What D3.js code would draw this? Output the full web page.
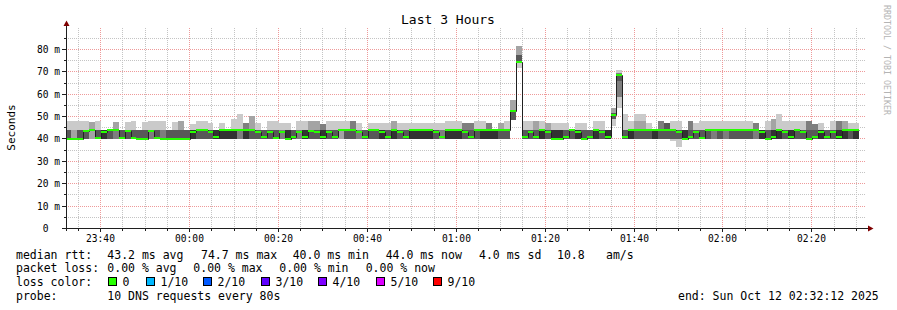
<!DOCTYPE html>
<html lang="en">
<head>
<meta charset="UTF-8">
<title>Last 3 Hours</title>
<script src="https://cdn.jsdelivr.net/npm/d3@7"></script>
<style>
	html,body{margin:0;padding:0;background:#fff;}
	svg{display:block;}
	text{font-family:"DejaVu Sans Mono",monospace;fill:#000;}
</style>
</head>
<body>
<div id="main"></div>
<script>
// one entry per 80 s step, ms
var median = [
	40.2,40,40,43.6,44,40.5,43,44,44,40.5,
	43.6,40.5,40,40,43.6,40.5,40,40,40,40,
	40,43,44,44,43,41,44,44,44,44,
	44,44,43,41,43,40.6,43,40,41,43,
	41,43.6,43,41,43,41,44,44,44,43,
	41,44,44,43,41,44,43,41,44,44,
	44,44,43,41,44,44,44,43,41,44,
	44,44,44,44,44,52.6,74.5,41,43,41,
	44,43,40.2,40.2,41,44,43,40.2,41,44,
	43,41,50.8,68.4,41,44,44,44,44,44,
	44,44,44,43,40,41,43,40.4,44,44,
	44,44,44,44,44,44,44,43,40,41,
	44,43,41,44,43,40,41,43,41,43,
	41,44,44,44
];
// the 10 sorted DNS times of each step, ms
var pings = [
	[40,40,40,40,42,42,44,44,44,48],[40,40,42,42,42,42,42,42,44,48],[40,40,40,40,42,42,44,44,44,48],
	[40,40,40,40,42,42,44,44,44,48],[40,40,42,42,42,42,42,42,47.5,47.5],[40,40,40,40,42,42,44,44,44,48],
	[40,40,40,40,40,44,44,44,44,44],[40,40,40,40,42,42,44,44,44,44],[40,40,40,42,42,42,42,44,47.5,47.5],
	[40,40,40,40,42,42,44,44,44,44],[40,40,40,40,42,42,44,44,44,47.5],[40,40,40,40,42,42,44,44,44,48],
	[40,40,40,40,42,42,44,44,44,44],[40,40,40,40,42,42,44,44,44,47.5],[40,40,40,42,42,42,42,44,44,48],
	[40,40,40,40,42,42,44,44,44,48],[40,40,40,42,42,42,42,44,44,48],[40,40,40,40,42,42,44,44,44,44],
	[40,40,40,40,42,42,44,44,44,47.5],[40,40,40,40,42,42,44,44,48,48],[40,40,40,40,42,42,44,44,44,44],
	[40,40,40,40,40,44,44,44,44,46.5],[40,40,40,40,42,42,44,44,44,48],[40,40,40,40,42,42,44,44,44,48],
	[40,40,40,40,42,42,44,44,44,47.3],[40,40,40,40,40,44,44,44,44,44],[40,40,40,40,40,44,44,44,44,47.3],
	[40,40,40,40,40,44,44,44,44,44],[40,40,40,40,40,44,44,44,44,49],[40,40,40,42,42,42,42,44,44,51],
	[40,40,40,40,40,44,44,47.3,47.3,47.3],[40,40,40,40,42,42,44,44,50.2,50.2],[40,40,40,40,42,42,44,44,44,47.3],
	[40,40,40,40,42,42,44,44,44,44],[40,40,40,40,42,42,44,44,44,48],[40,40,40,40,42,42,44,44,44,48],
	[40,40,40,42,42,42,42,44,44,47.3],[40,40,40,40,40,44,44,44,44,47.3],[40,40,40,40,42,42,44,44,44,44],
	[40,40,40,42,42,42,42,44,44,48],[40,40,40,40,40,44,44,44,44,48],[40,40,40,40,42,42,44,44,48,48],
	[40,40,40,40,42,42,44,44,48,48],[40,40,40,40,40,44,44,46.5,46.5,46.5],[40,40,40,40,42,42,44,44,44,48],
	[40,40,40,40,42,42,44,44,44,48],[40,40,42,42,42,42,42,42,44,48],[40,40,40,40,42,42,44,44,44,48],
	[40,40,40,40,42,42,44,48,48,48],[40,40,40,42,42,42,42,44,44,47.3],[40,40,40,40,42,42,44,44,44,44],
	[40,40,40,40,42,42,44,44,44,47.3],[40,40,40,40,42,42,44,44,44,47.3],[40,40,40,40,40,44,44,44,44,47.3],
	[40,40,40,40,42,42,44,44,44,47.3],[40,40,40,40,40,44,44,44,48,48],[40,40,40,40,42,42,44,44,44,47.3],
	[40,40,40,40,42,42,44,44,44,47.3],[40,40,40,40,40,44,44,44,44,47.3],[40,40,40,40,40,44,44,44,44,47.3],
	[40,40,40,40,40,44,44,44,44,47.3],[40,40,40,40,40,44,44,44,44,47.3],[40,40,40,40,42,42,44,44,44,47.3],
	[40,40,40,42,42,42,42,44,44,47.3],[40,40,40,40,40,44,44,44,44,48],[40,40,40,40,40,44,44,44,44,48],
	[40,40,40,40,40,44,44,44,44,48],[40,40,40,40,42,42,44,47.3,47.3,47.3],[40,40,40,40,42,42,44,47.3,47.3,47.3],
	[40,40,40,40,42,42,44,44,44,48],[40,40,40,40,40,44,44,44,44,48],[40,40,40,40,40,44,44,47.3,47.3,47.3],
	[40,40,40,40,40,44,44,44,44,44],[40,40,40,40,42,42,44,44,47.3,47.3],[40,40,40,40,42,42,44,44,44,48],
	[48.5,48.5,48.5,48.5,52.5,52.7,52.7,52.7,57.4,57.4],[71.6,74.4,74.4,74.4,74.5,75,77.5,77.5,81.5,81.5],
	[40,40,40,40,42,42,44,44,44,48],[40,40,40,40,42,42,44,44,44,48],[40,40,40,40,42,42,44,44,48,48],
	[40,40,40,40,40,44,44,44,44,48],[40,40,40,40,42,42,44,44,47.3,47.3],[40,40,40,40,40,44,44,44,44,47.3],
	[40,40,40,40,40,44,44,44,44,47.3],[40,40,40,40,42,42,44,44,44,47.3],[40,40,40,40,42,42,44,44,44,44],
	[40,40,40,40,40,44,44,44,44,47.3],[40,40,40,40,42,42,44,44,44,47.3],[40,40,40,40,42,42,44,44,44,44],
	[40,40,40,40,40,44,44,44,44,48],[40,40,40,40,42,42,44,44,44,48],[40,40,40,40,40,44,44,44,44,44],
	[46,49,49,49,50.8,51,51.5,51.5,53.7,53.7],[54,58.7,58.7,65.7,68,68.5,68.5,69.3,69.3,70.8],
	[40,40,40,40,42,42,44,44,44,51],[40,40,40,40,40,44,44,44,44,48],[40,40,40,40,42,42,44,44,48,51],
	[40,40,40,40,42,42,44,44,48,51],[40,40,40,40,42,42,44,44,44,47],[40,40,40,40,40,44,44,44,44,44],
	[40,40,40,40,42,42,44,48,48,48],[40,40,40,40,42,42,47,47,47,47],[39.2,40,40,40,42,42,44,44,44,48],
	[36.6,40,40,40,42,42,44,44,44,48],[40,40,40,40,40,44,44,44,44,44],[40,40,40,40,42,42,44,48,48,48],
	[40,40,40,40,42,42,44,44,44,47],[40,40,40,40,42,42,44,44,44,48],[40,40,40,40,42,42,44,44,44,48],
	[40,40,40,42,42,42,42,44,44,48],[40,40,40,40,42,42,44,44,44,48],[40,40,40,42,42,42,42,44,44,48],
	[40,40,40,40,42,42,44,44,44,48],[40,40,40,40,42,42,44,44,44,48],[40,40,40,40,42,42,44,44,44,48],
	[40,40,40,40,42,42,44,44,44,48],[40,40,40,42,42,42,42,47.3,47.3,47.3],[40,40,40,40,40,44,44,44,44,44],
	[40,40,40,40,42,42,44,44,44,48],[40,40,40,40,40,44,44,44,49,49],[40,40,40,40,40,44,44,44,44,51],
	[40,40,40,40,42,42,44,44,44,48],[40,40,40,40,40,44,44,44,44,48],[40,40,40,40,42,42,44,44,44,48],
	[40,40,40,40,42,42,44,44,44,48],[40,40,40,40,42,42,44,48,48,48],[40,40,40,40,42,42,44,46.5,46.5,46.5],
	[40,40,40,40,40,44,44,44,44,47.3],[40,40,40,40,42,42,44,44,44,44],[40,40,40,40,42,42,44,44,44,48],
	[40,40,40,40,40,44,44,48,48,48],[40,40,40,40,40,44,44,44,48,48],[40,40,40,40,42,42,44,44,44,47.3],
	[40,40,40,40,40,44,44,44,44,47.3]
];
var yTicks = [0,10,20,30,40,50,60,70,80];
var yMinor = [5,15,25,35,45,55,65,75,85];
var lossLabels = ["0","1/10","2/10","3/10","4/10","5/10","9/10"];
var lossColors = ["#26ff00","#00b8ff","#0059ff","#5e00ff","#7e00ff","#dd00ff","#ff0000"];
var smokeGrays = ["#cacaca","#a4a4a4","#7e7e7e","#585858","#323232"];

var W = 897, H = 310;
var tStart = new Date(2025,9,11,23,32,12),
	tEnd = new Date(2025,9,12,2,32,12),
	firstStep = new Date(2025,9,11,23,32,3),
	STEP = 80000;

var x = d3.scaleTime().domain([tStart,tEnd]).range([66,866]);
var y = d3.scaleLinear().domain([0,89.385]).range([228.5,28.5]);
var px = function(v){ return Math.floor(v)+0.5; };

var svg = d3.select("#main").append("svg").attr("width",W).attr("height",H);
svg.append("rect").attr("width",W).attr("height",H).attr("fill","#fff");
svg.append("clipPath").attr("id","plot").append("rect")
	.attr("x",66).attr("y",28).attr("width",800).attr("height",200.5);

// grid
var grid = svg.append("g").attr("stroke-dasharray","1,1").attr("stroke-width",1);
var major = d3.timeMinute.every(20).range(tStart,tEnd);
var minor = d3.timeMinute.every(5).range(tStart,tEnd).filter(function(d){ return d.getMinutes()%20!==0; });
grid.selectAll(".vmin").data(minor).enter().append("line")
	.attr("x1",function(d){return px(x(d));}).attr("x2",function(d){return px(x(d));})
	.attr("y1",28).attr("y2",228).attr("stroke","#c4c4c4");
grid.selectAll(".hmin").data(yMinor).enter().append("line")
	.attr("x1",66).attr("x2",866).attr("y1",function(d){return px(y(d));}).attr("y2",function(d){return px(y(d));})
	.attr("stroke","#c4c4c4");
grid.selectAll(".vmaj").data(major).enter().append("line")
	.attr("x1",function(d){return px(x(d));}).attr("x2",function(d){return px(x(d));})
	.attr("y1",28).attr("y2",228).attr("stroke","#ee9a9a");
grid.selectAll(".hmaj").data(yTicks.slice(1)).enter().append("line")
	.attr("x1",66).attr("x2",866).attr("y1",function(d){return px(y(d));}).attr("y2",function(d){return px(y(d));})
	.attr("stroke","#ee9a9a");

// smoke
var plot = svg.append("g").attr("clip-path","url(#plot)");
var steps = pings.map(function(p,i){
	var t0 = new Date(+firstStep + i*STEP);
	return {t0:t0, t1:new Date(+t0+STEP), p:p, m:median[i]};
});
var smoke = plot.append("g").attr("shape-rendering","crispEdges");
smokeGrays.forEach(function(c,j){
	smoke.selectAll(".s"+j).data(steps.filter(function(d){ return d.p[9-j]>d.p[j]; }))
		.enter().append("rect")
		.attr("x",function(d){return x(d.t0);})
		.attr("width",function(d){return x(d.t1)-x(d.t0);})
		.attr("y",function(d){return y(d.p[9-j]);})
		.attr("height",function(d){return y(d.p[j])-y(d.p[9-j]);})
		.attr("fill",c);
});

// median
var pts = steps.map(function(d){ return [d.t0,d.m]; });
pts.push([steps[steps.length-1].t1, steps[steps.length-1].m]);
plot.append("path").datum(pts)
	.attr("d",d3.line().curve(d3.curveStepAfter).x(function(d){return Math.round(x(d[0]))+0.5;}).y(function(d){return Math.round(y(d[1]))+0.5;}))
	.attr("fill","none").attr("stroke","#202020").attr("stroke-width",1);
plot.append("g").attr("shape-rendering","crispEdges").selectAll("rect").data(steps).enter().append("rect")
	.attr("x",function(d){return x(d.t0);})
	.attr("width",function(d){return x(d.t1)-x(d.t0);})
	.attr("y",function(d){return Math.round(y(d.m))-1;})
	.attr("height",2)
	.attr("fill",lossColors[0]);

// axes
var ax = svg.append("g").attr("stroke","#1f1f1f").attr("stroke-width",1);
ax.append("line").attr("x1",62).attr("x2",868).attr("y1",228.5).attr("y2",228.5);
ax.append("line").attr("x1",66.5).attr("x2",66.5).attr("y1",231).attr("y2",25);
ax.selectAll(".ty").data(yTicks).enter().append("line")
	.attr("x1",62).attr("x2",66).attr("y1",function(d){return px(y(d));}).attr("y2",function(d){return px(y(d));});
ax.selectAll(".tym").data(yMinor).enter().append("line")
	.attr("x1",64).attr("x2",66).attr("y1",function(d){return px(y(d));}).attr("y2",function(d){return px(y(d));});
ax.selectAll(".tx").data(major).enter().append("line")
	.attr("x1",function(d){return px(x(d));}).attr("x2",function(d){return px(x(d));}).attr("y1",229).attr("y2",232);
ax.selectAll(".txm").data(minor).enter().append("line")
	.attr("x1",function(d){return px(x(d));}).attr("x2",function(d){return px(x(d));}).attr("y1",229).attr("y2",231);
svg.append("path").attr("d","M63.5,26L66.5,20.5L69.5,26Z").attr("fill","#7f0000");
svg.append("path").attr("d","M868,225.5L873.5,228.5L868,231.5Z").attr("fill","#7f0000");

// labels
svg.selectAll(".ly").data(yTicks).enter().append("text")
	.attr("x",60).attr("y",function(d){return y(d)+3.5;})
	.attr("text-anchor","end").attr("font-size","9.6px")
	.text(function(d){ return d===0 ? "0\u00a0\u00a0" : d+" m"; });
svg.selectAll(".lx").data(major).enter().append("text")
	.attr("x",function(d){return px(x(d));}).attr("y",241.5)
	.attr("text-anchor","middle").attr("font-size","9.6px")
	.text(d3.timeFormat("%H:%M"));
svg.append("text").attr("x",448).attr("y",24).attr("text-anchor","middle")
	.attr("font-size","13px").text("Last 3 Hours");
svg.append("text").attr("transform","translate(15,127.5) rotate(-90)")
	.attr("text-anchor","middle").attr("font-size","11px").text("Seconds");
svg.append("text").attr("transform","translate(884,5) rotate(90)")
	.attr("font-size","8.3px").style("fill","#b4b4b4").text("RRDTOOL / TOBI OETIKER");

// legend
var legend = [
	[258.5, [[16,"median rtt:"],[107.3,"43.2 ms avg"],[201,"74.7 ms max"],[292.7,"40.0 ms min"],[385.7,"44.0 ms now"],[479,"4.0 ms sd"],[557,"10.8"],[606,"am/s"]]],
	[272, [[16,"packet loss:"],[107.3,"0.00 % avg"],[193.3,"0.00 % max"],[279.3,"0.00 % min"],[365.7,"0.00 % now"]]],
	[286, [[16,"loss color:"]]],
	[300, [[16,"probe:"],[107.3,"10 DNS requests every 80s"],[678,"end: Sun Oct 12 02:32:12 2025"]]]
];
var lg = svg.append("g").attr("font-size","11.5px");
legend.forEach(function(row){
	row[1].forEach(function(c){
		lg.append("text").attr("x",c[0]).attr("y",row[0]).text(c[1]);
	});
});
var boxX = [108,146,203,261,318,376,433];
lossLabels.forEach(function(l,i){
	lg.append("rect").attr("x",boxX[i]+0.5).attr("y",277.5).attr("width",8).attr("height",8)
		.attr("fill",lossColors[i]).attr("stroke","#000");
	lg.append("text").attr("x",boxX[i]+14.5).attr("y",286).text(l);
});
</script>
</body>
</html>
